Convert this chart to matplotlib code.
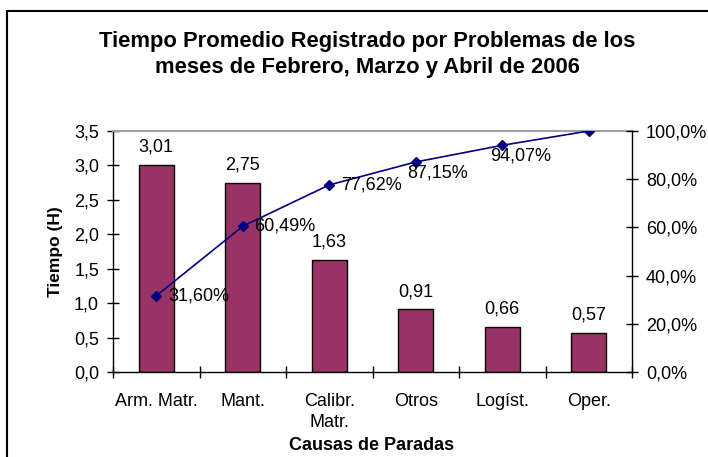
import matplotlib
matplotlib.use("Agg")
import matplotlib.pyplot as plt
from matplotlib.patches import Rectangle

plt.rcParams['font.family'] = ['Liberation Sans', 'DejaVu Sans']

# data
causas = ['Arm. Matr.', 'Mant.', 'Calibr.\nMatr.', 'Otros', 'Logíst.', 'Oper.']
tiempo = [3.01, 2.75, 1.63, 0.91, 0.66, 0.57]
acumulado = [31.60, 60.49, 77.62, 87.15, 94.07, 100.0]
y_ticks = [0.0, 0.5, 1.0, 1.5, 2.0, 2.5, 3.0, 3.5]
pct_ticks = [0, 20, 40, 60, 80, 100]

W, H = 708, 457
fig = plt.figure(figsize=(W / 100, H / 100), dpi=100)

# outer chart frame (runs off right/bottom edge like the source)
fig.patches.append(Rectangle((7 / W, -0.1), 1.1, (H - 11) / H + 0.1,
                             transform=fig.transFigure, fill=False,
                             edgecolor='black', linewidth=1.5))

ax = fig.add_axes([113 / W, (H - 372) / H, 519 / W, 241 / H])
x = list(range(len(causas)))
ax.bar(x, tiempo, width=0.4, color='#993366', edgecolor='black', linewidth=1, zorder=2)
ax.set_xlim(-0.5, len(causas) - 0.5)
ax.set_ylim(0, 3.5)
ax.set_yticks(y_ticks)
ax.set_yticklabels([f"{v:.1f}".replace('.', ',') for v in y_ticks], fontsize=13)
ax.set_xticks(x)
ax.set_xticklabels(causas, fontsize=13, linespacing=1.3, va='top')
ax.set_xticks([i - 0.5 for i in range(len(causas) + 1)], minor=True)
ax.tick_params(axis='x', which='major', length=0, pad=15)
ax.tick_params(axis='x', which='minor', direction='inout', length=8, width=1)
ax.tick_params(axis='y', direction='inout', length=8, width=1, pad=6)

for s in ['left', 'bottom']:
    ax.spines[s].set_linewidth(1)
ax.spines['top'].set_color('#a0a0a0')
ax.spines['top'].set_linewidth(1.5)
ax.spines['right'].set_visible(False)

for xi, v in zip(x, tiempo):
    ax.annotate(f"{v:.2f}".replace('.', ','), (xi, v), xytext=(0, 12.5),
                textcoords='offset points', ha='center', va='center', fontsize=13)

ax2 = ax.twinx()
ax2.set_ylim(0, 100)
ax2.set_yticks(pct_ticks)
ax2.set_yticklabels([f"{v:.1f}%".replace('.', ',') for v in pct_ticks], fontsize=13)
ax2.tick_params(axis='y', direction='inout', length=8, width=1, pad=6)
for s in ['left', 'top', 'bottom']:
    ax2.spines[s].set_visible(False)
ax2.spines['right'].set_linewidth(1)
ax2.plot(x, acumulado, color='#000080', linewidth=1.2, marker='D',
         markersize=5, zorder=3)

# label offsets (points) for the cumulative labels
offsets = [(8.5, 0), (8.5, 0), (8.5, 0), (-6, -8), (-9, -7.5)]
for xi, v, off in zip(x, acumulado, offsets):
    ax2.annotate(f"{v:.2f}%".replace('.', ','), (xi, v), xytext=off,
                 textcoords='offset points', ha='left', va='center', fontsize=13)

fig.text(367 / W, 1 - 42 / H, 'Tiempo Promedio Registrado por Problemas de los',
         ha='center', va='center', fontsize=15.8, fontweight='bold')
fig.text(367 / W, 1 - 68 / H, 'meses de Febrero, Marzo y Abril de 2006',
         ha='center', va='center', fontsize=15.8, fontweight='bold')
fig.text(55 / W, 1 - 251.5 / H, 'Tiempo (H)', rotation=90, ha='center', va='center',
         fontsize=12.5, fontweight='bold')
fig.text(372 / W, 1 - 445 / H, 'Causas de Paradas', ha='center', va='center',
         fontsize=13, fontweight='bold')

fig.savefig('out.png', dpi=100)
